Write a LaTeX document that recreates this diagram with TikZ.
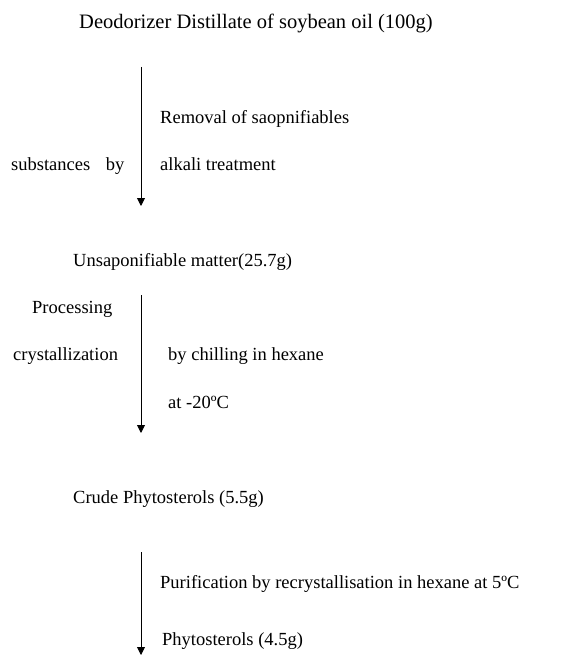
\documentclass[tikz,border=0pt]{standalone}
\usepackage{fontspec}
\setmainfont{Liberation Serif}
\usetikzlibrary{arrows.meta,positioning}
\tikzset{>={Triangle[width=8pt,length=8pt]},every node/.style={font=\fontsize{18.5}{22}\selectfont,inner sep=0pt},
 label/.style={anchor=base west},title/.style={label,font=\fontsize{20.5}{24}\selectfont},
 flow/.style={->,line width=0.9pt}}
\begin{document}
\begin{tikzpicture}[x=1pt,y=-1pt]
\useasboundingbox (0,0) rectangle (579,655);
% products
\node[title] (ddso) at (79,29) {Deodorizer Distillate of soybean oil (100g)};
\node[label] (unsap) at (73,266) {Unsaponifiable matter(25.7g)};
\node[label] (crude) at (73,503) {Crude Phytosterols (5.5g)};
% step texts
\node[label] (rem) at (160,124) {Removal of saopnifiables};
\node[label] (subst) at (11,171) {substances\hspace{11pt} by};
\node[label] (alkali) at (160,171) {alkali treatment};
\node[label] (proc) at (32,313) {Processing};
\node[label] (cryst) at (13,360) {crystallization};
\node[label] (chill) at (168,360) {by chilling in hexane};
\node[label] (temp) at (168,408) {at -20ºC};
\node[label] (purif) at (160,588) {Purification by recrystallisation in hexane at 5ºC};
\node[label] (phyto) at (162,645) {Phytosterols (4.5g)};
% arrows
\coordinate (s1) at (141,67);
\coordinate (e1) at (141,206);
\coordinate (s2) at (141,295);
\coordinate (e2) at (141,433);
\coordinate (s3) at (141,552);
\coordinate (e3) at (141,655);
\draw[flow] (s1)--(e1);
\draw[flow] (s2)--(e2);
\draw[flow] (s3)--(e3);
\end{tikzpicture}
\end{document}
